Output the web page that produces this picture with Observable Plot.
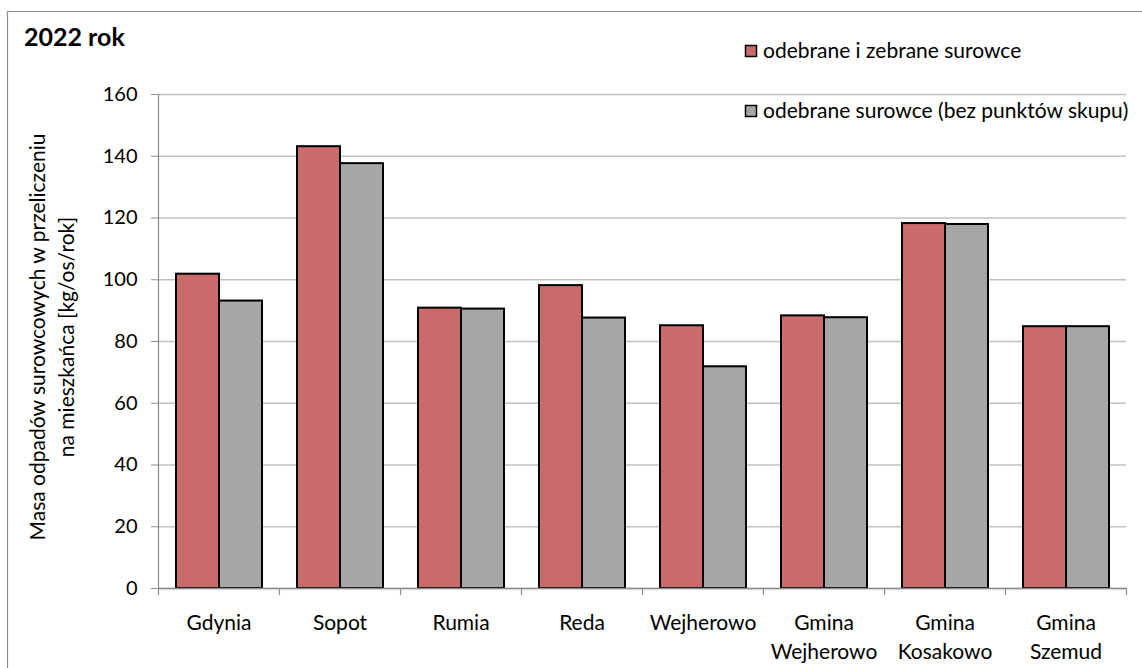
<!DOCTYPE html>
<html><head><meta charset="utf-8">
<script src="https://cdn.jsdelivr.net/npm/d3@7"></script>
<script src="https://cdn.jsdelivr.net/npm/@observablehq/plot@0.6"></script>
<style>
html,body{margin:0;padding:0;background:#fff;}
#chart{position:relative;width:1142px;height:668px;overflow:hidden;}
</style></head><body><div id="chart"></div>
<script>
const categories = ["Gdynia","Sopot","Rumia","Reda","Wejherowo","Gmina Wejherowo","Gmina Kosakowo","Gmina Szemud"];
const tickLabels = ["Gdynia","Sopot","Rumia","Reda","Wejherowo","Gmina\nWejherowo","Gmina\nKosakowo","Gmina\nSzemud"];
const series = ["odebrane i zebrane surowce","odebrane surowce (bez punktów skupu)"];
const collected = [101.8, 143.1, 90.8, 98.1, 85.1, 88.3, 118.2, 84.8];
const withoutPoints = [93.1, 137.6, 90.5, 87.6, 71.8, 87.7, 117.9, 84.8];
const yTicks = [0,20,40,60,80,100,120,140,160];
const colors = ["#c96b6a","#a6a6a6"];
const title = "2022 rok";
const yLabel = ["Masa odpadów surowcowych w przeliczeniu","na mieszkańca [kg/os/rok]"];

const table = categories.flatMap((c,i)=>[
  {category:c, series:series[0], value:collected[i]},
  {category:c, series:series[1], value:withoutPoints[i]}
]);

const FONT = "Lato, 'Noto Sans', sans-serif";
const axisGray = "#8c8c8c";
const FS = 21;

const plot = Plot.plot({
  width: 1142, height: 668,
  marginLeft: 157, marginRight: 16, marginTop: 94, marginBottom: 80,
  style: {fontFamily: FONT, fontSize: FS + "px", color: "black", background: "white", overflow: "visible"},
  fx: {domain: categories, paddingInner: 0, paddingOuter: 0, label: null},
  x: {domain: series, paddingInner: 0, paddingOuter: 0.378, axis: null},
  y: {domain: [0,160], label: null},
  color: {domain: series, range: colors},
  marks: [
    Plot.gridY({ticks: yTicks, stroke: "#c0c0c0", strokeOpacity: 1, strokeWidth: 1.5}),
    Plot.axisY({ticks: yTicks, tickSize: 7, tickPadding: 14, fontSize: 20, label: null, stroke: axisGray, fill: "black"}),
    Plot.axisFx({anchor: "bottom", tickSize: 0, tickPadding: 21, fontSize: FS, lineHeight: 29/FS, label: null, fill: "black",
      tickFormat: d => tickLabels[categories.indexOf(d)]}),
    Plot.barY(table, {fx: "category", x: "series", y: "value", fill: "series", stroke: "black", strokeWidth: 2}),
    Plot.ruleY([0], {stroke: axisGray, strokeWidth: 1.5})
  ]
});

document.getElementById("chart").appendChild(plot);

const svg = d3.select(plot);
const fx = plot.scale("fx");
const y = plot.scale("y");
const y0 = y.apply(0), yTop = y.apply(160);
const bounds = categories.map(c => fx.apply(c)).concat([fx.apply(categories[categories.length-1]) + fx.bandwidth]);
const g = svg.append("g").attr("stroke", axisGray).attr("stroke-width", 1.2);
g.append("line").attr("x1", bounds[0]+0.5).attr("x2", bounds[0]+0.5).attr("y1", yTop).attr("y2", y0);
bounds.forEach(b => g.append("line").attr("x1", Math.round(b)+0.5).attr("x2", Math.round(b)+0.5).attr("y1", y0).attr("y2", y0+7));

// frame border
svg.append("path").attr("d", "M7.5,668V11.5H1142").attr("fill","none").attr("stroke", axisGray).attr("stroke-width", 1.2);

// title
svg.append("text").attr("x", 24).attr("y", 46).attr("text-anchor","start").attr("font-family", FONT).attr("font-weight", "bold").attr("font-size", 25).attr("fill","black").text(title);

// y label
yLabel.forEach((t,i) => {
  svg.append("text").attr("transform", `translate(${45 + i*29},337) rotate(-90)`)
    .attr("text-anchor","middle").attr("font-family", FONT).attr("font-size", FS).attr("fill","black").text(t);
});

// legend
series.forEach((s,i) => {
  const ly = [45, 105][i];
  svg.append("rect").attr("x", 745.5).attr("y", ly+0.5).attr("width", 11).attr("height", 11)
    .attr("fill", colors[i]).attr("stroke","black").attr("stroke-width",1.5);
  svg.append("text").attr("x", 763).attr("y", ly+12.5).attr("text-anchor","start").attr("font-family", FONT).attr("font-size", FS).attr("fill","black").text(s);
});
</script></body></html>
